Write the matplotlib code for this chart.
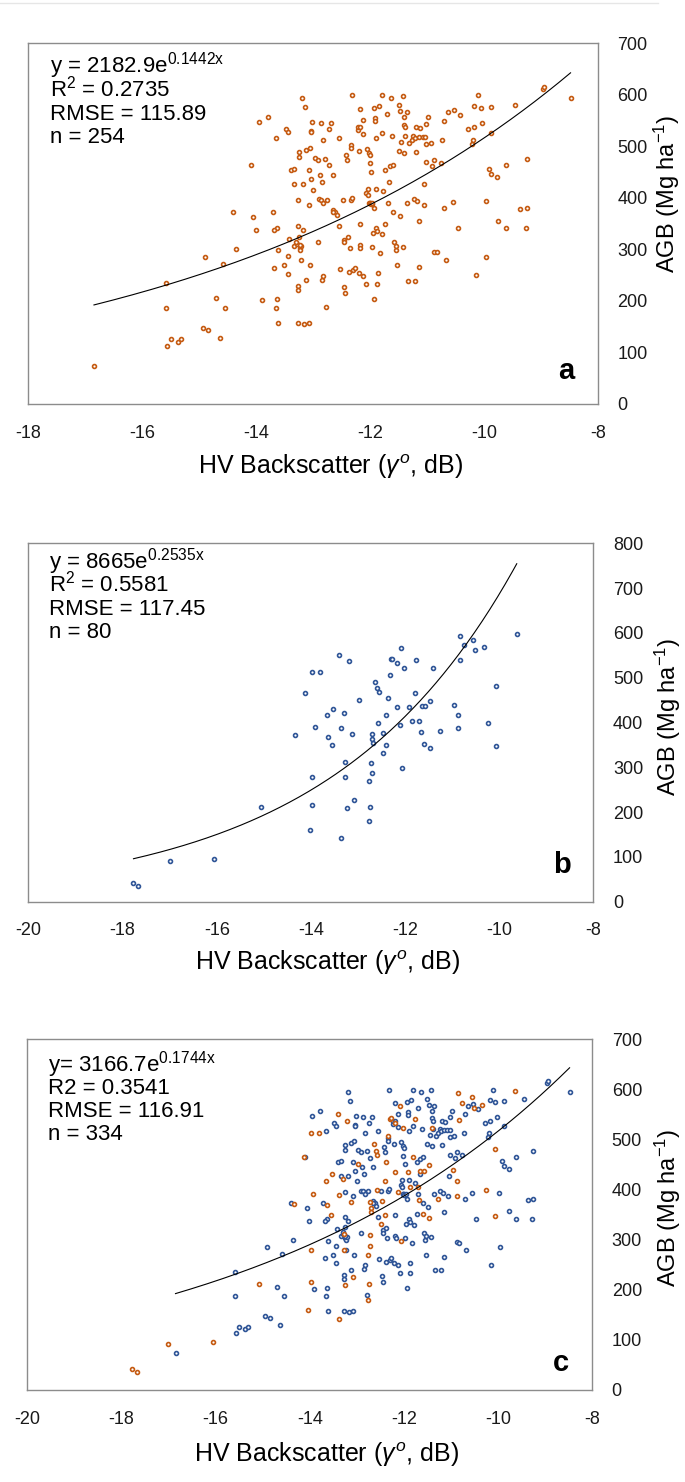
import numpy as np
import matplotlib.pyplot as plt
from matplotlib.lines import Line2D

plt.rcParams['font.family'] = ['Liberation Sans', 'DejaVu Sans']
plt.rcParams['mathtext.fontset'] = 'custom'
plt.rcParams['mathtext.rm'] = 'Liberation Sans'
plt.rcParams['mathtext.it'] = 'Liberation Sans:italic'
plt.rcParams['axes.unicode_minus'] = False

# panel a: HV backscatter (dB) vs AGB (Mg/ha), n = 254
a_x = [-16.85, -15.58, -15.58, -15.56, -15.5, -15.37, -15.32, -14.94, -14.85, -14.9,
       -14.7, -14.63, -14.59, -14.54, -14.4, -14.35, -14.1, -14.06, -14.01, -13.95,
       -13.9, -13.79, -13.71, -13.68, -13.66, -13.63, -13.63, -13.65, -13.62, -13.61,
       -13.68, -13.51, -13.48, -13.45, -13.45, -13.44, -13.42, -13.39, -13.34, -13.34,
       -13.33, -13.29, -13.27, -13.27, -13.27, -13.26, -13.25, -13.25, -13.26, -13.25,
       -13.24, -13.23, -13.22, -13.21, -13.19, -13.16, -13.18, -13.18, -13.14, -13.12,
       -13.12, -13.08, -13.08, -13.07, -13.06, -13.05, -13.04, -13.03, -13.02, -13.04,
       -13.0, -12.97, -12.92, -12.91, -12.9, -12.88, -12.87, -12.86, -12.85, -12.85,
       -12.83, -12.82, -12.82, -12.79, -12.78, -12.76, -12.73, -12.72, -12.68, -12.66,
       -12.66, -12.62, -12.59, -12.55, -12.54, -12.53, -12.48, -12.46, -12.45, -12.44,
       -12.45, -12.42, -12.4, -12.38, -12.36, -12.37, -12.34, -12.33, -12.33, -12.32,
       -12.31, -12.3, -12.27, -12.22, -12.22, -12.2, -12.2, -12.18, -12.18, -12.18,
       -12.18, -12.17, -12.13, -12.12, -12.12, -12.08, -12.07, -12.05, -12.04, -12.04,
       -12.02, -12.02, -12.01, -12.0, -12.0, -11.98, -11.97, -11.97, -11.94, -11.95,
       -11.94, -11.92, -11.93, -11.91, -11.9, -11.9, -11.89, -11.88, -11.88, -11.87,
       -11.84, -11.83, -11.8, -11.8, -11.79, -11.77, -11.73, -11.73, -11.71, -11.69,
       -11.66, -11.65, -11.64, -11.62, -11.6, -11.59, -11.58, -11.55, -11.54, -11.52,
       -11.5, -11.5, -11.48, -11.47, -11.45, -11.42, -11.42, -11.41, -11.41, -11.41,
       -11.39, -11.38, -11.35, -11.35, -11.33, -11.31, -11.27, -11.24, -11.23, -11.21,
       -11.21, -11.2, -11.19, -11.17, -11.15, -11.14, -11.13, -11.14, -11.08, -11.06,
       -11.05, -11.03, -11.02, -11.02, -11.02, -10.98, -10.93, -10.91, -10.88, -10.88,
       -10.83, -10.76, -10.73, -10.7, -10.71, -10.67, -10.63, -10.55, -10.53, -10.46,
       -10.43, -10.28, -10.21, -10.2, -10.17, -10.17, -10.14, -10.1, -10.06, -10.03,
       -9.97, -9.96, -9.92, -9.88, -9.88, -9.87, -9.77, -9.76, -9.62, -9.62,
       -9.45, -9.37, -9.27, -9.25, -9.25, -8.96, -8.94, -8.48,
       -12.01, -11.99, -13.3, -12.65, -11.96, -13.24]
a_y = [73, 235, 187, 113, 126, 121, 126, 147, 144, 285,
       205, 129, 272, 187, 373, 300, 464, 362, 338, 547,
       202, 556, 373, 264, 187, 204, 341, 516, 298, 157,
       337, 270, 533, 253, 288, 527, 321, 455, 456, 426,
       307, 311, 229, 222, 158, 395, 479, 489, 346, 325,
       303, 299, 279, 306, 594, 156, 426, 338, 577, 493,
       240, 455, 386, 158, 496, 270, 529, 527, 547, 437,
       416, 478, 474, 314, 397, 444, 396, 545, 241, 430,
       390, 249, 513, 476, 189, 396, 533, 463, 545, 444,
       377, 373, 367, 517, 346, 262, 396, 228, 319, 216,
       314, 484, 474, 324, 303, 256, 396, 502, 496, 599,
       400, 260, 263, 531, 537, 254, 491, 573, 349, 537,
       308, 303, 524, 551, 249, 233, 409, 494, 418, 405,
       390, 487, 467, 483, 390, 450, 389, 304, 204, 332,
       574, 555, 380, 549, 517, 418, 342, 336, 233, 254,
       578, 293, 526, 599, 329, 413, 350, 454, 563, 390,
       430, 461, 594, 520, 464, 373, 314, 299, 307, 269,
       491, 580, 364, 568, 508, 305, 598, 542, 556, 487,
       520, 537, 566, 391, 239, 507, 512, 520, 397, 239,
       517, 489, 537, 393, 355, 518, 535, 265, 518, 386,
       426, 519, 504, 469, 544, 557, 506, 462, 474, 295,
       294, 468, 512, 550, 381, 279, 566, 392, 570, 341,
       560, 533, 505, 513, 579, 537, 250, 599, 575, 545,
       393, 285, 456, 446, 526, 577, 441, 356, 464, 341,
       581, 378, 342, 476, 380, 612, 616, 594,
       391, 389, 315, 372, 391, 308]

# panel b: n = 80
b_x = [-17.77, -17.67, -17.0, -16.06, -15.07, -14.33, -14.12, -14.03, -13.97, -13.97,
       -13.97, -13.92, -13.8, -13.65, -13.64, -13.55, -13.53, -13.4, -13.37, -13.37,
       -13.29, -13.27, -13.27, -13.24, -13.2, -13.13, -13.08, -12.97, -12.77, -12.76,
       -12.75, -12.72, -12.71, -12.7, -12.71, -12.69, -12.64, -12.6, -12.56, -12.57,
       -12.48, -12.47, -12.41, -12.4, -12.37, -12.33, -12.3, -12.28, -12.18, -12.18,
       -12.12, -12.08, -12.07, -12.02, -11.92, -11.86, -11.8, -11.76, -11.71, -11.67,
       -11.65, -11.58, -11.59, -11.47, -11.47, -11.4, -11.27, -10.96, -10.87, -10.87,
       -10.84, -10.83, -10.76, -10.56, -10.52, -10.33, -10.07, -10.25, -10.06, -9.63]
b_y = [41, 35, 91, 96, 212, 371, 465, 159, 216, 279,
       513, 390, 512, 416, 368, 349, 430, 551, 388, 141,
       421, 311, 279, 209, 537, 375, 226, 451, 179, 269,
       212, 310, 375, 363, 287, 354, 490, 476, 468, 399,
       331, 377, 416, 349, 454, 506, 541, 542, 434, 532,
       395, 566, 298, 522, 434, 404, 465, 540, 404, 378,
       437, 436, 351, 344, 448, 522, 381, 438, 416, 387,
       592, 539, 572, 584, 562, 569, 481, 398, 347, 597]

# exponential fits y = A * exp(B * x)
fit_a = (2182.9, 0.1442)
fit_b = (8665, 0.2535)

labels_a = [r"y = 2182.9e$^{\mathrm{0.1442x}}$", "R$^2$ = 0.2735", "RMSE = 115.89", "n = 254"]
labels_b = [r"y = 8665e$^{\mathrm{0.2535x}}$", "R$^2$ = 0.5581", "RMSE = 117.45", "n = 80"]
labels_c = [r"y= 3166.7e$^{\mathrm{0.1744x}}$", "R2 = 0.3541", "RMSE = 116.91", "n = 334"]

orange = '#C55A11'
blue = '#2F5597'


def panel(ax, xmin, ymax, lines, base_y, letter, letter_y, xlab_y, ylab_x, ylab_y):
    ax.set_xlim(xmin, -8)
    ax.set_ylim(0, ymax)
    ax.set_xticks(np.arange(xmin, -7, 2))
    ax.set_yticks(np.arange(0, ymax + 1, 100))
    ax.yaxis.tick_right()
    ax.tick_params(length=0, labelsize=13, colors='#1a1a1a')
    ax.tick_params(axis='x', pad=15)
    ax.tick_params(axis='y', pad=14)
    for s in ax.spines.values():
        s.set_color('#8c8c8c')
        s.set_linewidth(1.0)
    for i, t in enumerate(lines):
        ax.text(0.037, base_y - i * 0.065, t, transform=ax.transAxes, fontsize=16,
                va='baseline', ha='left')
    ax.text(0.945, letter_y, letter, transform=ax.transAxes, fontsize=21, fontweight='bold',
            va='baseline', ha='center')
    ax.text(0.53, xlab_y, r"HV Backscatter ($\gamma^o$, dB)", transform=ax.transAxes,
            fontsize=18, ha='center', va='center')
    ax.text(ylab_x, ylab_y, "AGB (Mg ha$^{-1}$)", transform=ax.transAxes,
            fontsize=17, ha='center', va='center', rotation=90)


def curve(ax, xs, fit):
    xv = np.linspace(min(xs), max(xs), 200)
    ax.plot(xv, fit[0] * np.exp(fit[1] * xv), color='black', lw=0.8)


def pts(ax, xs, ys, c):
    ax.plot(xs, ys, 'o', ms=2.8, mew=1.2, mfc='white', mec=c, ls='none')


def main():
    fig = plt.figure(figsize=(6.85, 14.82), dpi=100)
    fig.add_artist(Line2D([0, 0.96], [0.998, 0.998], color='#e6e6e6', lw=1))

    ax1 = fig.add_axes([0.0416, 0.7274, 0.8312, 0.2434])
    pts(ax1, a_x, a_y, orange)
    curve(ax1, a_x, fit_a)
    panel(ax1, -18, 700, labels_a, 0.918, 'a', 0.069, -0.175, 1.121, 0.582)

    ax2 = fig.add_axes([0.0416, 0.3916, 0.8248, 0.2418])
    pts(ax2, b_x, b_y, blue)
    curve(ax2, b_x, fit_b)
    panel(ax2, -20, 800, labels_b, 0.93, 'b', 0.079, -0.171, 1.132, 0.516)

    ax3 = fig.add_axes([0.0397, 0.0621, 0.8248, 0.2368])
    pts(ax3, a_x, a_y, blue)
    pts(ax3, b_x, b_y, orange)
    # the line drawn in this panel follows the panel-a fit
    curve(ax3, a_x, fit_a)
    panel(ax3, -20, 700, labels_c, 0.907, 'c', 0.055, -0.185, 1.134, 0.518)

    fig.savefig('out.png', dpi=100)


if __name__ == '__main__':
    main()
